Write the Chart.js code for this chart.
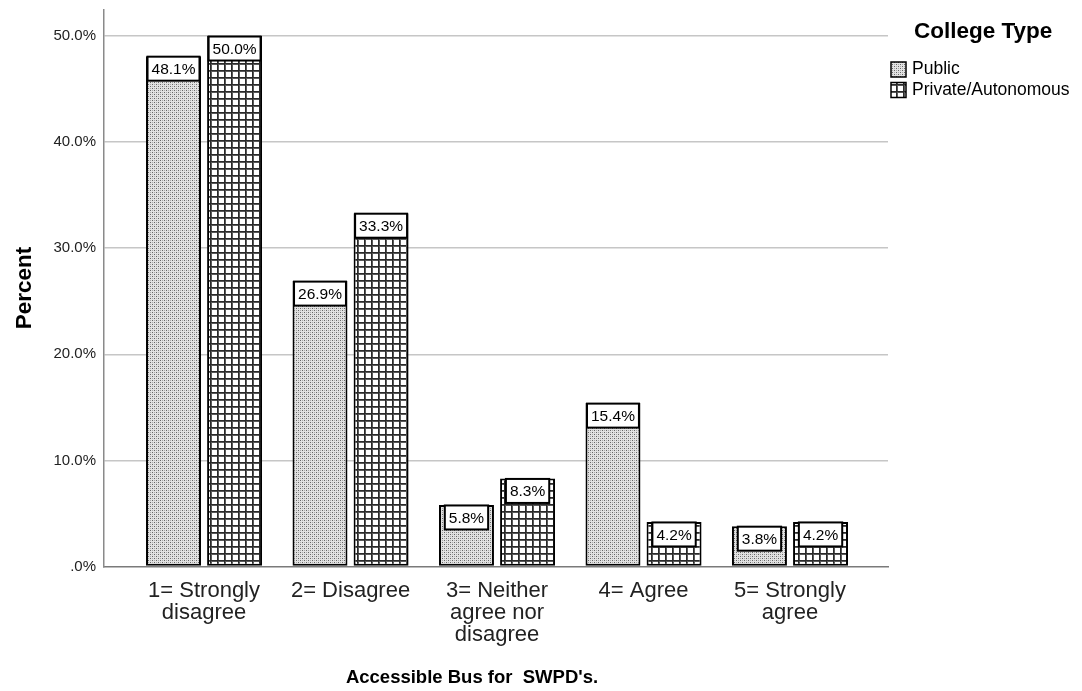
<!DOCTYPE html>
<html>
<head>
<meta charset="utf-8">
<script src="https://cdn.jsdelivr.net/npm/chart.js@4.4.1/dist/chart.umd.min.js"></script>
<style>
  html, body { margin: 0; padding: 0; background: #ffffff; }
  canvas { display: block; }
</style>
</head>
<body>
<canvas id="chart" width="1082" height="691"></canvas>
<script>
// Response categories (multi-line tick labels)
const categories = [
  ["1= Strongly", "disagree"],
  ["2= Disagree"],
  ["3= Neither", "agree nor", "disagree"],
  ["4= Agree"],
  ["5= Strongly", "agree"]
];
// Percent of respondents by college type
const publicPct = [48.1, 26.9, 5.8, 15.4, 3.8];
const privatePct = [50.0, 33.3, 8.3, 4.2, 4.2];
const seriesNames = ["Public", "Private/Autonomous"];
const yTickValues = [0, 10, 20, 30, 40, 50];
const xTitle = "Accessible Bus for  SWPD's.";
const legendTitle = "College Type";

const FONT = '"Liberation Sans", Arial, sans-serif';
const canvas = document.getElementById('chart');
const ctx = canvas.getContext('2d');

// Fine dotted fill
function dotPattern() {
  const t = document.createElement('canvas');
  t.width = 4; t.height = 4;
  const g = t.getContext('2d');
  g.fillStyle = '#e2e2e2'; g.fillRect(0, 0, 4, 4);
  g.fillStyle = '#666666';
  g.fillRect(0, 0, 1, 1); g.fillRect(2, 2, 1, 1);
  g.fillStyle = '#aaaaaa';
  g.fillRect(2, 0, 1, 1); g.fillRect(0, 2, 1, 1);
  return ctx.createPattern(t, 'repeat');
}
// Cross-hatch grid fill
function gridPattern() {
  const t = document.createElement('canvas');
  t.width = 7; t.height = 7;
  const g = t.getContext('2d');
  g.fillStyle = '#ffffff'; g.fillRect(0, 0, 7, 7);
  g.fillStyle = '#5a5a5a';
  g.fillRect(1, 0, 1, 7); g.fillRect(0, 1, 7, 1);
  g.fillStyle = '#2a2a2a';
  g.fillRect(0, 0, 1, 7); g.fillRect(0, 0, 7, 1);
  return ctx.createPattern(t, 'repeat');
}
const fills = [dotPattern(), gridPattern()];

// White value boxes sitting at the top of each bar
const valueBoxes = {
  id: 'valueBoxes',
  afterDatasetsDraw(chart) {
    const c = chart.ctx;
    c.save();
    c.font = '15.5px ' + FONT;
    chart.data.datasets.forEach((ds, di) => {
      chart.getDatasetMeta(di).data.forEach((bar, i) => {
        const text = ds.data[i].y.toFixed(1) + '%';
        const w = c.measureText(text).width + 8;
        const h = 24;
        const x0 = bar.x - w / 2;
        const y0 = bar.y + 0.5;
        c.fillStyle = '#ffffff';
        c.fillRect(x0, y0, w, h);
        c.strokeStyle = '#000000';
        c.lineWidth = 2;
        c.strokeRect(x0, y0, w, h);
        c.fillStyle = '#000000';
        c.textAlign = 'center';
        c.textBaseline = 'middle';
        c.fillText(text, bar.x, y0 + h / 2 + 1);
      });
    });
    c.restore();
  }
};

// Legend with title in the right margin, and the horizontal axis title
const sideLegend = {
  id: 'sideLegend',
  afterDraw(chart) {
    const c = chart.ctx;
    c.save();
    c.fillStyle = '#000000';
    c.textAlign = 'left';
    c.textBaseline = 'middle';
    c.font = 'bold 22.5px ' + FONT;
    c.fillText(legendTitle, 914, 32);
    c.font = '17.5px ' + FONT;
    seriesNames.forEach((name, i) => {
      const y = 62 + i * 20.5;
      c.fillStyle = fills[i];
      c.fillRect(891, y, 15, 15);
      c.strokeStyle = '#000000';
      c.lineWidth = 1.5;
      c.strokeRect(891, y, 15, 15);
      c.fillStyle = '#000000';
      c.fillText(name, 912, y + 7.5);
    });
    c.font = 'bold 18.5px ' + FONT;
    c.textAlign = 'center';
    c.fillText(xTitle, 472, 678);
    c.restore();
  }
};

new Chart(ctx, {
  type: 'bar',
  data: {
    datasets: [
      {
        label: seriesNames[0],
        data: publicPct.map((v, i) => ({ x: i, y: v })),
        backgroundColor: fills[0],
        borderColor: '#000000',
        borderWidth: 2,
        borderSkipped: false
      },
      {
        label: seriesNames[1],
        data: privatePct.map((v, i) => ({ x: i, y: v })),
        backgroundColor: fills[1],
        borderColor: '#000000',
        borderWidth: 2,
        borderSkipped: false
      }
    ]
  },
  options: {
    responsive: false,
    animation: false,
    devicePixelRatio: 1,
    categoryPercentage: 0.834,
    barPercentage: 0.9,
    layout: { padding: { top: 9.5, right: 194, bottom: 0, left: 0 } },
    plugins: { legend: { display: false }, tooltip: { enabled: false } },
    scales: {
      x: {
        type: 'linear',
        min: -0.683,
        max: 4.669,
        offset: false,
        grid: { display: false, drawTicks: false },
        border: { display: true, color: '#7a7a7a', width: 1.5 },
        afterBuildTicks: (s) => { s.ticks = categories.map((_, i) => ({ value: i })); },
        ticks: {
          autoSkip: false,
          maxRotation: 0,
          padding: 13,
          color: '#222222',
          font: { family: FONT, size: 22, lineHeight: 1.0 },
          callback: (v) => categories[v] || ''
        },
        afterFit: (s) => { s.height = 691 - 566.5; s.paddingLeft = 0; s.paddingRight = 0; }
      },
      y: {
        min: 0,
        max: 52.5,
        grid: {
          color: (c) => (c.tick && c.tick.value === 0 ? 'rgba(0,0,0,0)' : '#c6c6c6'),
          lineWidth: 1.5,
          drawTicks: false
        },
        border: { display: true, color: '#8a8a8a', width: 1.5 },
        afterBuildTicks: (s) => { s.ticks = yTickValues.map((v) => ({ value: v })); },
        ticks: {
          padding: 8,
          color: '#222222',
          font: { family: FONT, size: 15 },
          callback: (v) => (v === 0 ? '.0%' : v.toFixed(1) + '%')
        },
        title: {
          display: true,
          text: 'Percent',
          color: '#000000',
          font: { family: FONT, size: 22.5, weight: 'bold' },
          padding: { top: 11, bottom: 0 }
        },
        afterFit: (s) => { s.width = 104; s.paddingTop = 0; s.paddingBottom = 0; }
      }
    }
  },
  plugins: [valueBoxes, sideLegend]
});
</script>
</body>
</html>
